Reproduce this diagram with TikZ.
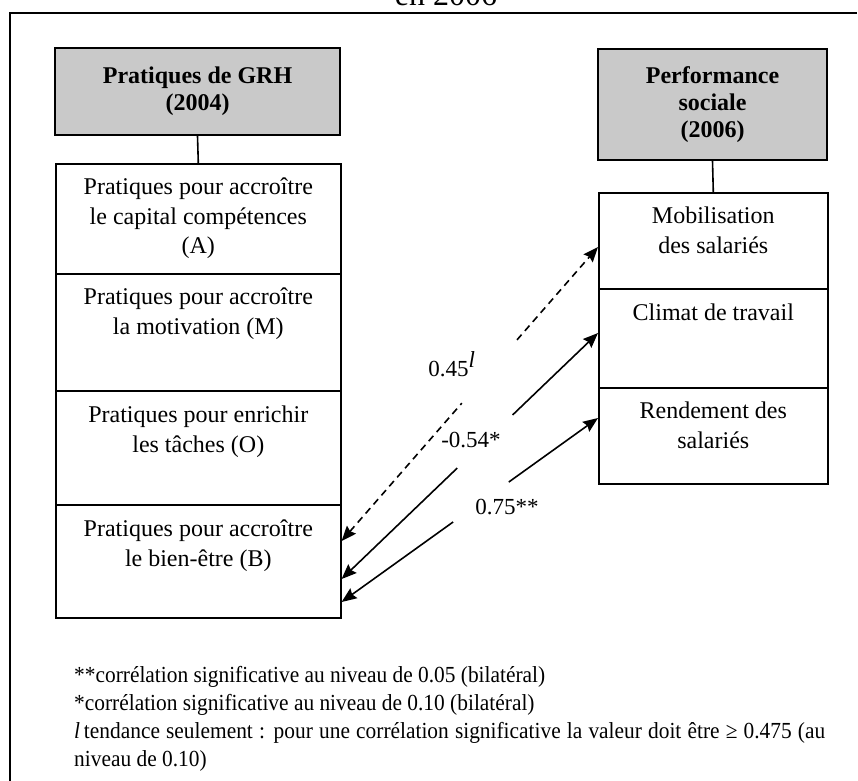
\documentclass[tikz,border=0pt]{standalone}
\usepackage{fontspec}
\setmainfont{Liberation Serif}
\newfontfamily\notefont{Liberation Serif}[FakeStretch=0.93]
\usetikzlibrary{arrows.meta,calc}
\begin{document}
\begin{tikzpicture}[x=1pt,y=-1pt,
  >={Stealth[length=15pt,width=12pt,inset=2pt]},
  frame/.style={line width=2.2pt},
  headbox/.style={draw, line width=2pt, fill=black!21, inner sep=0pt,
    align=center, font=\fontsize{24}{27}\selectfont\bfseries},
  cell/.style={draw, line width=1.6pt, inner sep=0pt, anchor=north west},
  celltext/.style={inner sep=0pt, anchor=north, align=center,
    font=\fontsize{24}{29.5}\selectfont},
  link/.style={line width=1.6pt},
  corr/.style={line width=1.6pt},
  dashcorr/.style={corr, dash pattern=on 7pt off 5pt},
  val/.style={inner sep=0pt, font=\fontsize{23}{23}\selectfont},
  note/.style={inner sep=0pt, anchor=base west, align=left,
    font=\notefont\fontsize{23}{28}\selectfont}
]
\useasboundingbox (0,0) rectangle (858,780);

% caption line (its upper part lies above the page)
\node[inner sep=0pt, anchor=base, font=\fontsize{32}{32}\selectfont] (cap) at (446,5) {en 2006};

% outer frame
\coordinate (fbl) at (10,782);
\coordinate (ftl) at (10,13);
\coordinate (ftr) at (857,13);
\draw[frame] (fbl) -- (ftl) -- (ftr);

% left column: HRM practices
\node[headbox, minimum width=285pt, minimum height=87pt] (grh) at (197.5,91.5)
  {Pratiques de GRH\\(2004)};
\node[cell, minimum width=285pt, minimum height=110pt] (A) at (55,163) {};
\node[cell, minimum width=285pt, minimum height=117pt] (M) at (55,273) {};
\node[cell, minimum width=285pt, minimum height=114pt] (O) at (55,390) {};
\node[cell, minimum width=285pt, minimum height=113pt] (B) at (55,504) {};
\draw[link] (grh.south) -- (A.north);

\node[celltext] (At) at ($(A.north)+(0,15)$)
  {Pratiques pour accroître\\le capital compétences\\(A)};
\node[celltext] (Mt) at ($(M.north)+(0,15)$)
  {Pratiques pour accroître\\la motivation (M)};
\node[celltext] (Ot) at ($(O.north)+(0,16)$)
  {Pratiques pour enrichir\\les tâches (O)};
\node[celltext] (Bt) at ($(B.north)+(0,16)$)
  {Pratiques pour accroître\\le bien-être (B)};

% right column: social performance
\node[headbox, minimum width=229pt, minimum height=111pt] (perf) at (712.5,104.5)
  {Performance\\sociale\\(2006)};
\node[cell, minimum width=229pt, minimum height=96pt] (mob) at (598,192) {};
\node[cell, minimum width=229pt, minimum height=99pt] (clim) at (598,288) {};
\node[cell, minimum width=229pt, minimum height=96pt] (rend) at (598,387) {};
\draw[link] (perf.south) -- (mob.north);

\node[celltext] (mobt) at ($(mob.north)+(0,15)$) {Mobilisation\\des salariés};
\node[celltext] (climt) at ($(clim.north)+(0,16)$) {Climat de travail};
\node[celltext] (rendt) at ($(rend.north)+(0,15)$) {Rendement des\\salariés};

% arrow ends on the box edges
\coordinate (b1) at ($(B.north east)+(0,37)$);
\coordinate (b2) at ($(B.north east)+(0,75)$);
\coordinate (b3) at ($(B.north east)+(0,98)$);
\coordinate (r1) at ($(mob.north west)+(0,55)$);
\coordinate (r2) at ($(clim.north west)+(0,45)$);
\coordinate (r3) at ($(rend.north west)+(0,31)$);

% correlations, each line broken where its value sits
\draw[dashcorr, <-] (b1) -- ($(b1)!0.469!(r1)$);
\draw[dashcorr, ->] ($(b1)!0.684!(r1)$) -- (r1);
\draw[corr, <-] (b2) -- ($(b2)!0.451!(r2)$);
\draw[corr, ->] ($(b2)!0.667!(r2)$) -- (r2);
\draw[corr, <-] (b3) -- ($(b3)!0.435!(r3)$);
\draw[corr, ->] ($(b3)!0.652!(r3)$) -- (r3);

\node[val] (v1) at (452,364) {0.45$^{\textit{l}}$};
\node[val] (v2) at (471,440) {-0.54*};
\node[val] (v3) at (507,507) {0.75**};

% significance notes
\node[note] (n1) at (74,682) {**corrélation significative au niveau de 0.05 (bilatéral)};
\node[note] (n2) at (74,710) {*corrélation significative au niveau de 0.10 (bilatéral)};
\node[note] (n3) at (74,738) {\makebox[751pt][s]{\textit{l}\,tendance seulement : pour une corrélation significative la valeur doit être ≥ 0.475 (au}};
\node[note] (n4) at (74,766) {niveau de 0.10)};
\end{tikzpicture}
\end{document}
